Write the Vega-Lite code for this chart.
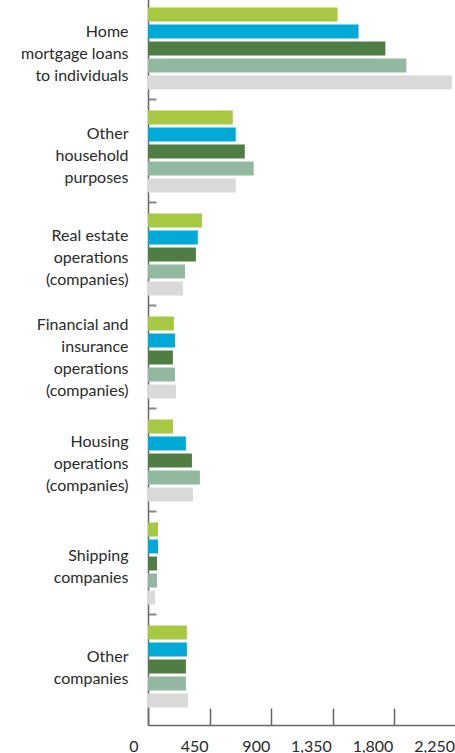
{
  "$schema": "https://vega.github.io/schema/vega-lite/v6.json",
  "autosize": {"type": "none"},
  "padding": {"left": 148, "top": -3, "right": 0, "bottom": 28},
  "width": 308,
  "height": 728,
  "config": {"view": {"stroke": null}, "font": "Lato"},
  "data": {"values": [
    {"category": "Home mortgage loans to individuals", "series": "s1", "value": 1385},
    {"category": "Home mortgage loans to individuals", "series": "s2", "value": 1538},
    {"category": "Home mortgage loans to individuals", "series": "s3", "value": 1734},
    {"category": "Home mortgage loans to individuals", "series": "s4", "value": 1887},
    {"category": "Home mortgage loans to individuals", "series": "s5", "value": 2220},
    {"category": "Other household purposes", "series": "s1", "value": 619},
    {"category": "Other household purposes", "series": "s2", "value": 641},
    {"category": "Other household purposes", "series": "s3", "value": 707},
    {"category": "Other household purposes", "series": "s4", "value": 772},
    {"category": "Other household purposes", "series": "s5", "value": 641},
    {"category": "Real estate operations (companies)", "series": "s1", "value": 394},
    {"category": "Real estate operations (companies)", "series": "s2", "value": 364},
    {"category": "Real estate operations (companies)", "series": "s3", "value": 350},
    {"category": "Real estate operations (companies)", "series": "s4", "value": 270},
    {"category": "Real estate operations (companies)", "series": "s5", "value": 255},
    {"category": "Financial and insurance operations (companies)", "series": "s1", "value": 189},
    {"category": "Financial and insurance operations (companies)", "series": "s2", "value": 197},
    {"category": "Financial and insurance operations (companies)", "series": "s3", "value": 182},
    {"category": "Financial and insurance operations (companies)", "series": "s4", "value": 197},
    {"category": "Financial and insurance operations (companies)", "series": "s5", "value": 204},
    {"category": "Housing operations (companies)", "series": "s1", "value": 182},
    {"category": "Housing operations (companies)", "series": "s2", "value": 277},
    {"category": "Housing operations (companies)", "series": "s3", "value": 321},
    {"category": "Housing operations (companies)", "series": "s4", "value": 379},
    {"category": "Housing operations (companies)", "series": "s5", "value": 328},
    {"category": "Shipping companies", "series": "s1", "value": 73},
    {"category": "Shipping companies", "series": "s2", "value": 73},
    {"category": "Shipping companies", "series": "s3", "value": 66},
    {"category": "Shipping companies", "series": "s4", "value": 66},
    {"category": "Shipping companies", "series": "s5", "value": 51},
    {"category": "Other companies", "series": "s1", "value": 284},
    {"category": "Other companies", "series": "s2", "value": 284},
    {"category": "Other companies", "series": "s3", "value": 277},
    {"category": "Other companies", "series": "s4", "value": 277},
    {"category": "Other companies", "series": "s5", "value": 292}
  ]},
  "mark": {"type": "bar"},
  "encoding": {
    "y": {
      "field": "category",
      "type": "nominal",
      "sort": ["Home mortgage loans to individuals", "Other household purposes", "Real estate operations (companies)", "Financial and insurance operations (companies)", "Housing operations (companies)", "Shipping companies", "Other companies"],
      "scale": {"paddingInner": 0, "paddingOuter": 0.034, "align": 0},
      "axis": {
        "title": null,
        "bandPosition": 0,
        "tickSize": -8,
        "tickColor": "#888888",
        "tickWidth": 2,
        "domainColor": "#666666",
        "domainWidth": 1.5,
        "labelPadding": 28,
        "labelFont": "Lato",
        "labelFontSize": 16,
        "labelColor": "#2a2a2a",
        "labelLineHeight": 22,
        "labelAlign": "right",
        "labelBaseline": "middle",
        "labelOffset": {
          "condition": [
            {"test": "datum.value === 'Home mortgage loans to individuals'", "value": -16},
            {"test": "datum.value === 'Other household purposes'", "value": -17},
            {"test": "datum.value === 'Real estate operations (companies)'", "value": -18},
            {"test": "datum.value === 'Financial and insurance operations (companies)'", "value": -32},
            {"test": "datum.value === 'Housing operations (companies)'", "value": -18},
            {"test": "datum.value === 'Shipping companies'", "value": -7}
          ],
          "value": -9
        },
        "labelExpr": "{'Home mortgage loans to individuals': ['Home', 'mortgage loans', 'to individuals'], 'Other household purposes': ['Other', 'household', 'purposes'], 'Real estate operations (companies)': ['Real estate', 'operations', '(companies)'], 'Financial and insurance operations (companies)': ['Financial and', 'insurance', 'operations', '(companies)'], 'Housing operations (companies)': ['Housing', 'operations', '(companies)'], 'Shipping companies': ['Shipping', 'companies'], 'Other companies': ['Other', 'companies']}[datum.label]"
      }
    },
    "yOffset": {
      "field": "series",
      "type": "nominal",
      "scale": {"paddingInner": 0.176, "paddingOuter": 0.618}
    },
    "x": {
      "field": "value",
      "type": "quantitative",
      "scale": {"domain": [0, 2250], "nice": false},
      "axis": {
        "title": null,
        "values": [0, 450, 900, 1350, 1800, 2250],
        "format": ",d",
        "grid": false,
        "tickSize": -17,
        "tickColor": "#666666",
        "tickWidth": 1.5,
        "domainColor": "#666666",
        "domainWidth": 1.5,
        "labelPadding": 30,
        "labelFont": "Lato",
        "labelFontSize": 16,
        "labelColor": "#2a2a2a",
        "labelAlign": "right",
        "labelFlush": false,
        "labelOffset": {"condition": {"test": "datum.value === 0", "value": -10}, "value": -1.5}
      }
    },
    "color": {
      "field": "series",
      "type": "nominal",
      "scale": {"domain": ["s1", "s2", "s3", "s4", "s5"], "range": ["#A6C843", "#00A9D6", "#507D43", "#92B8A0", "#D9D9D9"]},
      "legend": null
    }
  }
}
